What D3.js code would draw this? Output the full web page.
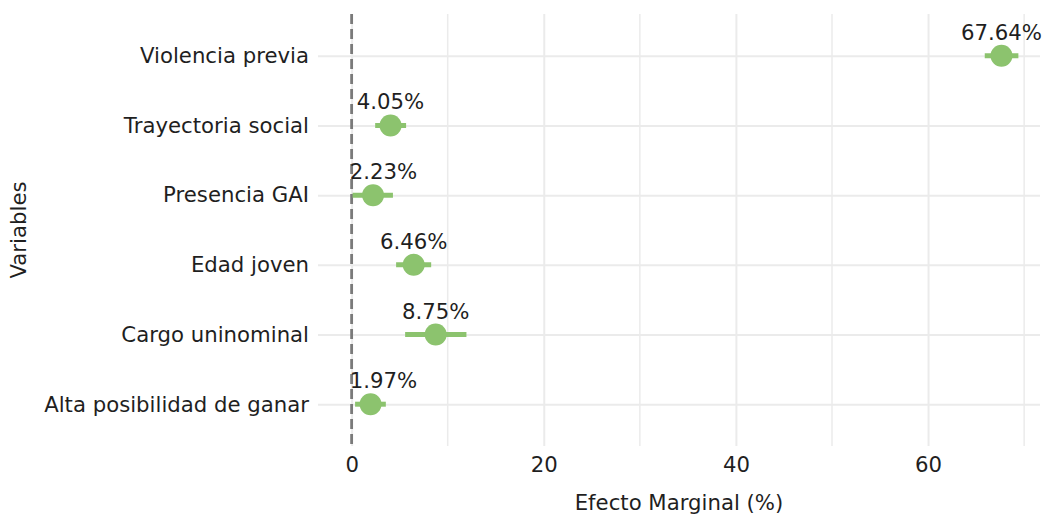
<!DOCTYPE html>
<html>
<head>
<meta charset="utf-8">
<script src="https://cdn.jsdelivr.net/npm/d3@7"></script>
<style>
  html, body { margin: 0; padding: 0; background: #ffffff; }
  svg { display: block; }
  text { font-family: "DejaVu Sans", "Open Sans", sans-serif; }
</style>
</head>
<body>
<svg id="chart" width="1045" height="515"></svg>
<script>
// ---- data ----
const categories = ["Violencia previa", "Trayectoria social", "Presencia GAI", "Edad joven", "Cargo uninominal", "Alta posibilidad de ganar"];
const estimates  = [67.64, 4.05, 2.23, 6.46, 8.75, 1.97];
const lowerCI    = [65.9, 2.45, 0.1, 4.63, 5.57, 0.36];
const upperCI    = [69.4, 5.67, 4.3, 8.28, 11.95, 3.56];
const labels     = ["67.64%", "4.05%", "2.23%", "6.46%", "8.75%", "1.97%"];
const xTicks     = [0, 20, 40, 60];
const xMinorTicks = [10, 30, 50, 70];
const xDomain    = [-3.5, 71.65];
const refValue   = 0;

// ---- layout ----
const W = 1045, H = 515;
const panel = { left: 318, right: 1040, top: 14, bottom: 446 };
const green = "#8CC36E";
const textColor = "#1f1f1f";
const gridColor = "#EBEBEB";

const svg = d3.select("#chart");

// fit font size to reference label width
const probe = svg.append("text").attr("font-size", 100).text("Alta posibilidad de ganar");
const probeW = probe.node().getComputedTextLength();
probe.remove();
const fs = Math.min(22, 100 * 265 / probeW);

const x = d3.scaleLinear().domain(xDomain).range([panel.left, panel.right]);
const y = d3.scalePoint().domain(categories).range([panel.top, panel.bottom]).padding(0.6);

const rows = categories.map((c, i) => ({ c, est: estimates[i], lo: lowerCI[i], hi: upperCI[i], label: labels[i] }));

// minor vertical gridlines
svg.append("g").selectAll("line").data(xMinorTicks).join("line")
  .attr("x1", d => x(d)).attr("x2", d => x(d))
  .attr("y1", panel.top).attr("y2", panel.bottom)
  .attr("stroke", gridColor).attr("stroke-width", 1.5);

// major vertical gridlines via axis
const gx = svg.append("g").attr("transform", `translate(0,${panel.bottom})`)
  .call(d3.axisBottom(x).tickValues(xTicks).tickSize(-(panel.bottom - panel.top)).tickPadding(11).tickFormat(d3.format("d")));
gx.select(".domain").remove();
gx.selectAll(".tick line").attr("stroke", gridColor).attr("stroke-width", 2);
gx.selectAll(".tick text").attr("fill", textColor).attr("font-size", fs).attr("font-family", null);

// horizontal gridlines via axis
const gy = svg.append("g").attr("transform", `translate(${panel.left},0)`)
  .call(d3.axisLeft(y).tickSize(-(panel.right - panel.left)).tickPadding(9));
gy.select(".domain").remove();
gy.selectAll(".tick line").attr("stroke", gridColor).attr("stroke-width", 2);
gy.selectAll(".tick text").attr("fill", textColor).attr("font-size", fs).attr("font-family", null);

// reference dashed line
svg.append("line")
  .attr("x1", x(refValue)).attr("x2", x(refValue))
  .attr("y1", panel.top).attr("y2", panel.bottom)
  .attr("stroke", "#7a7a7a").attr("stroke-width", 2.8)
  .attr("stroke-dasharray", "10,5");

// error bars
svg.append("g").selectAll("line").data(rows).join("line")
  .attr("x1", d => x(d.lo)).attr("x2", d => x(d.hi))
  .attr("y1", d => y(d.c)).attr("y2", d => y(d.c))
  .attr("stroke", green).attr("stroke-width", 5);

// points
svg.append("g").selectAll("circle").data(rows).join("circle")
  .attr("cx", d => x(d.est)).attr("cy", d => y(d.c)).attr("r", 11)
  .attr("fill", green);

// value labels (kept right of reference line)
const lab = svg.append("g").selectAll("text").data(rows).join("text")
  .attr("y", d => y(d.c) - 16)
  .attr("text-anchor", "middle")
  .attr("fill", textColor).attr("font-size", fs)
  .text(d => d.label);
lab.each(function(d) {
  const w = this.getComputedTextLength();
  let cx = x(d.est);
  const minLeft = x(refValue) - 2;
  if (cx - w / 2 < minLeft) cx = minLeft + w / 2;
  const maxRight = W - 2;
  if (cx + w / 2 > maxRight) cx = maxRight - w / 2;
  d3.select(this).attr("x", cx);
});

// axis titles
svg.append("text")
  .attr("x", (panel.left + panel.right) / 2).attr("y", 510)
  .attr("text-anchor", "middle").attr("fill", textColor).attr("font-size", fs)
  .text("Efecto Marginal (%)");
svg.append("text")
  .attr("transform", `translate(26,${(panel.top + panel.bottom) / 2}) rotate(-90)`)
  .attr("text-anchor", "middle").attr("fill", textColor).attr("font-size", fs)
  .text("Variables");
</script>
</body>
</html>
